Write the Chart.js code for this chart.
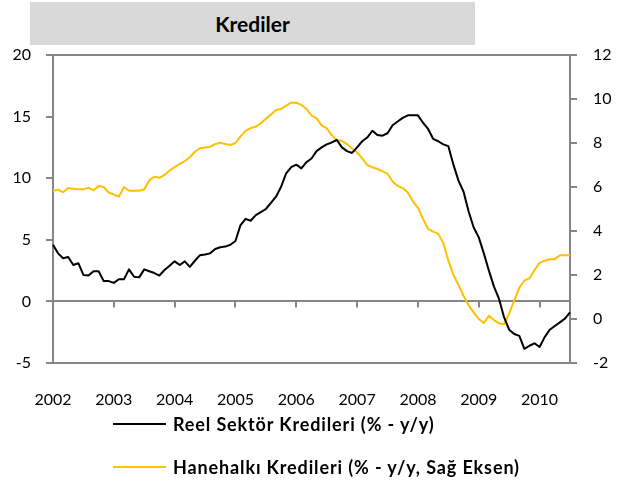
<!DOCTYPE html>
<html>
<head>
<meta charset="utf-8">
<script src="https://cdn.jsdelivr.net/npm/chart.js@4/dist/chart.umd.min.js"></script>
<style>
  body { margin: 0; background: #fff; }
  #wrap { position: relative; width: 634px; height: 486px; font-family: Lato, sans-serif; }
  #kredi { position: absolute; left: 0; top: 0; }
  .title {
    position: absolute; left: 30px; top: 2px; width: 445px; height: 43px;
    background: #d9d9d9; text-align: center; line-height: 43px;
    font-weight: bold; font-size: 21px; color: #000;
  }
  .leg-line { position: absolute; left: 113px; width: 53px; height: 2px; }
  .leg-text {
    position: absolute; left: 173px; font-weight: bold; font-size: 18px;
    letter-spacing: 0.87px; line-height: 22px; color: #000; white-space: nowrap;
  }
</style>
</head>
<body>
<div id="wrap">
  <canvas id="kredi" width="634" height="486"></canvas>
  <div class="title">Krediler</div>
  <div class="leg-line" style="top:423px;background:#000"></div>
  <div class="leg-text" style="top:413px">Reel Sektör Kredileri (% - y/y)</div>
  <div class="leg-line" style="top:466px;background:#ffc000"></div>
  <div class="leg-text" style="top:456px">Hanehalkı Kredileri (% - y/y, Sağ Eksen)</div>
</div>
<script>
const years = ['2002', '2003', '2004', '2005', '2006', '2007', '2008', '2009', '2010'];

// monthly, Jan 2002 .. Jul 2010
const months = [];
years.forEach(y => {
  for (let m = 1; m <= 12; m++) {
    if (y === '2010' && m > 7) break;
    months.push(y + '-' + String(m).padStart(2, '0'));
  }
});

const reelSektor = [
  4.6, 3.9, 3.5, 3.6, 2.95, 3.1, 2.15, 2.1, 2.45, 2.45, 1.65, 1.65,
  1.5, 1.8, 1.8, 2.6, 2.0, 1.95, 2.6, 2.45, 2.3, 2.1, 2.55, 2.9,
  3.25, 2.95, 3.25, 2.8, 3.3, 3.75, 3.8, 3.9, 4.25, 4.4, 4.45, 4.6,
  4.9, 6.2, 6.7, 6.55, 7.0, 7.25, 7.5, 8.0, 8.5, 9.3, 10.4, 10.9,
  11.1, 10.8, 11.3, 11.6, 12.2, 12.5, 12.75, 12.9, 13.1, 12.5, 12.2, 12.05,
  12.5, 13.0, 13.3, 13.85, 13.5, 13.45, 13.65, 14.3, 14.6, 14.9, 15.1, 15.1,
  15.1, 14.5, 14.0, 13.2, 13.0, 12.75, 12.6, 11.1, 9.8, 8.9, 7.3, 6.0,
  5.2, 3.9, 2.5, 1.2, 0.2, -1.3, -2.3, -2.65, -2.8, -3.85, -3.6, -3.4,
  -3.7, -2.9, -2.3, -2.0, -1.7, -1.4, -0.9
];

const hanehalki = [
  5.83, 5.88, 5.76, 5.95, 5.92, 5.9, 5.9, 5.96, 5.85, 6.05, 6.0, 5.75,
  5.66, 5.56, 6.0, 5.83, 5.83, 5.83, 5.9, 6.3, 6.47, 6.42, 6.55, 6.75,
  6.9, 7.05, 7.18, 7.35, 7.6, 7.76, 7.8, 7.83, 7.95, 8.01, 7.95, 7.91,
  8.0, 8.3, 8.55, 8.68, 8.74, 8.9, 9.1, 9.3, 9.5, 9.55, 9.7, 9.83,
  9.83, 9.73, 9.55, 9.25, 9.12, 8.8, 8.67, 8.35, 8.13, 8.1, 7.95, 7.75,
  7.58, 7.3, 7.0, 6.9, 6.82, 6.72, 6.6, 6.25, 6.05, 5.95, 5.75, 5.35,
  5.05, 4.55, 4.1, 3.97, 3.87, 3.45, 2.65, 2.0, 1.55, 1.05, 0.62, 0.3,
  0.0, -0.18, 0.15, -0.05, -0.2, -0.24, 0.25, 0.85, 1.42, 1.75, 1.85, 2.22,
  2.55, 2.65, 2.72, 2.72, 2.9, 2.9, 2.9
];

const leftTicks = { min: -5, max: 20, step: 5 };
const rightTicks = { min: -2, max: 12, step: 2 };

const axisGray = '#868686';
const tickFont = { family: 'Lato', size: 16 };

// plot frame plus the small year marks hanging under the zero line
const frame = {
  id: 'frame',
  beforeDatasetsDraw(chart) {
    const { ctx, chartArea: a, scales } = chart;
    ctx.save();
    ctx.strokeStyle = axisGray;
    ctx.lineWidth = 2;
    ctx.strokeRect(a.left, a.top, a.right - a.left, a.bottom - a.top);
    const y0 = scales.y.getPixelForValue(0);
    ctx.beginPath();
    months.forEach((m, i) => {
      if (i % 12 !== 0) return;
      const x = Math.round(scales.x.getPixelForValue(i));
      ctx.moveTo(x, y0);
      ctx.lineTo(x, y0 + 6);
    });
    ctx.stroke();
    ctx.restore();
  }
};

new Chart(document.getElementById('kredi'), {
  type: 'line',
  data: {
    labels: months,
    datasets: [
      {
        label: 'Reel Sektör Kredileri (% - y/y)',
        data: reelSektor,
        yAxisID: 'y',
        borderColor: '#000000',
        borderWidth: 2,
        pointRadius: 0,
        tension: 0,
        borderJoinStyle: 'round'
      },
      {
        label: 'Hanehalkı Kredileri (% - y/y, Sağ Eksen)',
        data: hanehalki,
        yAxisID: 'y1',
        borderColor: '#ffc000',
        borderWidth: 2,
        pointRadius: 0,
        tension: 0,
        borderJoinStyle: 'round'
      }
    ]
  },
  options: {
    responsive: false,
    animation: false,
    layout: { padding: { top: 55, bottom: 73, left: 0, right: 0 } },
    plugins: {
      legend: { display: false },
      tooltip: { enabled: false }
    },
    scales: {
      x: {
        position: 'bottom',
        grid: { display: false, drawTicks: false },
        border: { display: false },
        ticks: {
          autoSkip: false,
          maxRotation: 0,
          padding: 27,
          color: '#000',
          font: tickFont,
          callback: (v, i) => (i % 12 === 0 ? years[i / 12] : null)
        },
        afterFit: s => { s.height = 50; }
      },
      y: {
        position: 'left',
        min: leftTicks.min,
        max: leftTicks.max,
        border: { display: false },
        grid: {
          color: c => (c.tick && c.tick.value === 0 ? axisGray : 'transparent'),
          tickColor: axisGray,
          tickLength: 7,
          lineWidth: 2
        },
        ticks: { stepSize: leftTicks.step, padding: 15, color: '#000', font: tickFont },
        afterFit: s => { s.width = 53; }
      },
      y1: {
        position: 'right',
        min: rightTicks.min,
        max: rightTicks.max,
        border: { display: false },
        grid: { drawOnChartArea: false, tickColor: axisGray, tickLength: 7, lineWidth: 2 },
        ticks: { stepSize: rightTicks.step, padding: 16, color: '#000', font: tickFont },
        afterFit: s => { s.width = 64; }
      }
    }
  },
  plugins: [frame]
});
</script>
</body>
</html>
